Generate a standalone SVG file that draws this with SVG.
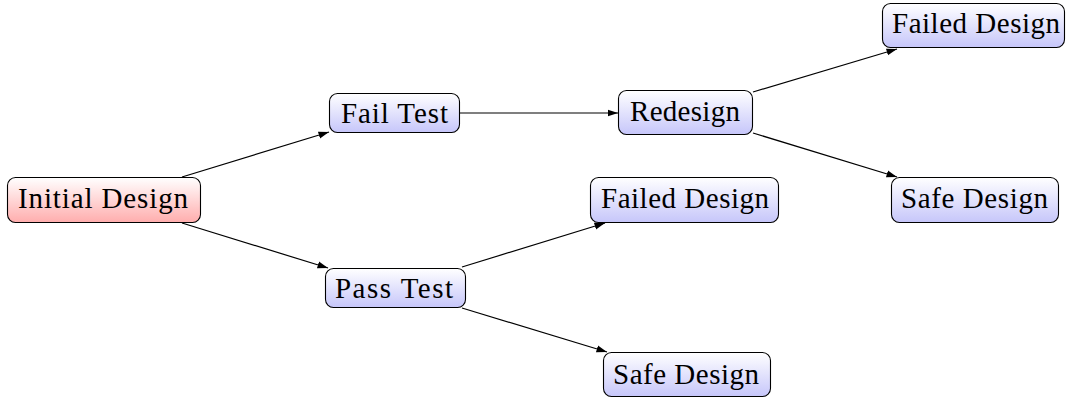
<svg xmlns="http://www.w3.org/2000/svg" width="1067" height="400" viewBox="0 0 1067 400">
<defs>
<linearGradient id="gb" x1="0" y1="0" x2="0" y2="1"><stop offset="0" stop-color="#ffffff"/><stop offset="1" stop-color="#c6c6fa"/></linearGradient>
<linearGradient id="gr" x1="0" y1="0" x2="0" y2="1"><stop offset="0" stop-color="#ffffff"/><stop offset="1" stop-color="#ffadad"/></linearGradient>
<marker id="ah" markerWidth="11" markerHeight="8" refX="10.5" refY="4" orient="auto" markerUnits="userSpaceOnUse"><path d="M0,0.5 L10.5,4 L0,7.5 z" fill="#000"/></marker>
<style>
.box{stroke:#000;stroke-width:1.1}
.b{fill:url(#gb)}
.r{fill:url(#gr)}
text{font-family:"Liberation Serif","DejaVu Serif",serif;font-size:29px;fill:#000}
.c{fill:none;stroke:#000;stroke-width:1.2;marker-end:url(#ah)}
</style>
</defs>
<g id="connectors">
<path class="c" d="M182,177 L329,132"/>
<path class="c" d="M182,223 L328,268"/>
<path class="c" d="M460,113 L618,113"/>
<path class="c" d="M753,92 L897,49"/>
<path class="c" d="M753,133 L897,177"/>
<path class="c" d="M462,267 L605,223"/>
<path class="c" d="M462,308 L607,352"/>
</g>
<g id="initial"><rect class="box r" x="7.5" y="177.5" width="193" height="45" rx="8"/><text x="18" y="208" textLength="170">Initial Design</text></g>
<g id="failtest"><rect class="box b" x="329.5" y="93.5" width="130" height="39" rx="8"/><text x="341" y="123" textLength="107">Fail Test</text></g>
<g id="passtest"><rect class="box b" x="325.5" y="268.5" width="140" height="39" rx="8"/><text x="335" y="298" textLength="118">Pass Test</text></g>
<g id="redesign"><rect class="box b" x="618.5" y="90.5" width="134" height="44" rx="8"/><text x="630" y="121" textLength="110">Redesign</text></g>
<g id="failed1"><rect class="box b" x="882.5" y="3.5" width="182" height="44" rx="8"/><text x="892" y="33" textLength="168">Failed Design</text></g>
<g id="safe1"><rect class="box b" x="891.5" y="177.5" width="167" height="45" rx="8"/><text x="901" y="208" textLength="147">Safe Design</text></g>
<g id="failed2"><rect class="box b" x="590.5" y="177.5" width="188" height="45" rx="8"/><text x="601" y="208" textLength="168">Failed Design</text></g>
<g id="safe2"><rect class="box b" x="603.5" y="352.5" width="167" height="44" rx="8"/><text x="613" y="384" textLength="146">Safe Design</text></g>
</svg>
